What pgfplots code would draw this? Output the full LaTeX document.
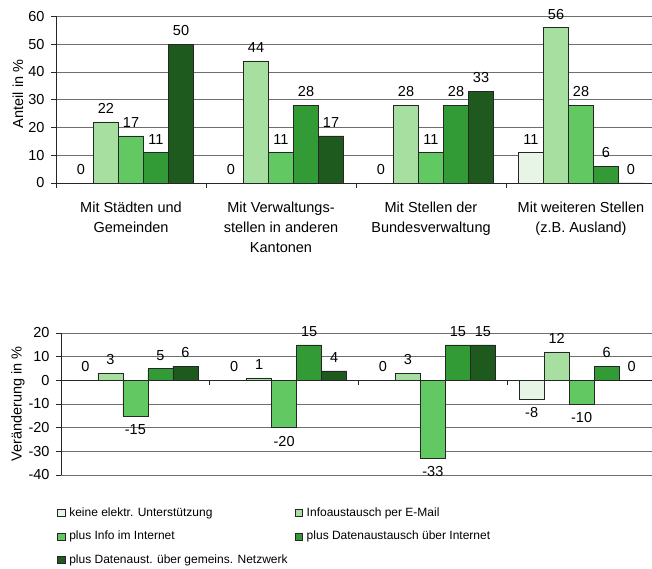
\documentclass[border=0pt]{standalone}
\usepackage{fontspec}
\setmainfont{Liberation Sans}
\usepackage{pgfplots}
\usepackage{pgfplotstable}
\pgfplotsset{compat=1.18}

\definecolor{cNone}{RGB}{230,245,230}
\definecolor{cMail}{RGB}{166,223,160}
\definecolor{cWeb}{RGB}{98,200,98}
\definecolor{cData}{RGB}{51,155,53}
\definecolor{cNet}{RGB}{30,90,30}
\definecolor{gridgray}{RGB}{110,110,110}

% Anteil in %
\pgfplotstableread{
x none mail web data net
0 0 22 17 11 50
1 0 44 11 28 17
2 0 28 11 28 33
3 11 56 28 6 0
}\share

% Veraenderung in %
\pgfplotstableread{
x none mail web data net
0 0 3 -15 5 6
1 0 1 -20 15 4
2 0 3 -33 15 15
3 -8 12 -10 6 0
}\change

\newcommand\axfont{\fontsize{14.5}{20}\selectfont}
\newcommand\lgfont{\fontsize{12}{14}\selectfont}

\pgfplotsset{
  groupbars/.style={
    scale only axis,
    ybar=0pt, bar width=25pt,
    xmin=-0.5, xmax=3.5,
    axis line style={-, black!85, line width=0.6pt},
    tick style={black!85, line width=0.6pt},
    tick align=outside, major tick length=5pt,
    ymajorgrids, grid style={gridgray, line width=0.6pt},
    /pgf/number format/assume math mode=true,
    tick label style={font=\axfont},
    yticklabel style={xshift=-3pt},
    label style={font=\axfont},
    nodes near coords,
    every node near coord/.append style={font=\axfont, text=black, inner ysep=8pt, inner xsep=1pt},
    xtick={-0.5,0.5,1.5,2.5,3.5},
    xticklabels={},
    every axis plot/.append style={draw=black!85, line width=0.6pt},
  },
}

\begin{document}
\begin{tikzpicture}
\useasboundingbox (0,0) rectangle (652pt,568pt);

\begin{axis}[groupbars,
  at={(56pt,385pt)}, anchor=south west,
  width=600pt, height=166.5pt,
  ymin=0, ymax=60, ytick={0,10,...,60},
  axis y line*=left, axis x line*=bottom,
  ylabel={Anteil in \%},
  ylabel style={at={(axis description cs:-0.0633,0.535)}, anchor=center},
  extra x ticks={0,1,2,3},
  extra x tick labels={{Mit Städten und\\Gemeinden},{Mit Verwaltungs-\\stellen in anderen\\Kantonen},{Mit Stellen der\\Bundesverwaltung},{Mit weiteren Stellen\\(z.B. Ausland)}},
  extra x tick style={major tick length=0pt, xticklabel style={align=center, yshift=-15pt}},
]
\addplot[fill=cNone] table[x=x, y=none] {\share};
\addplot[fill=cMail] table[x=x, y=mail] {\share};
\addplot[fill=cWeb]  table[x=x, y=web]  {\share};
\addplot[fill=cData] table[x=x, y=data] {\share};
\addplot[fill=cNet]  table[x=x, y=net]  {\share};
\end{axis}

\begin{axis}[groupbars,
  at={(61pt,93pt)}, anchor=south west,
  width=595pt, height=142pt,
  ymin=-40, ymax=20, ytick={-40,-30,...,20},
  axis y line*=left, axis x line*=middle,
  ylabel={Veränderung in \%},
  ylabel style={at={(axis description cs:-0.0723,0.5)}, anchor=center},
  legend columns=2,
  legend cell align=left,
  legend image code/.code={\draw[#1, line width=0.6pt] (0pt,-3.5pt) rectangle (7.5pt,3.5pt);},
  legend style={at={(axis description cs:-0.0067,-0.218)}, anchor=north west,
    draw=none, fill=none, inner sep=0pt, font=\lgfont, row sep=10pt,
    nodes={inner sep=1pt, text height=9pt, text depth=2.5pt},
    /tikz/every odd column/.append style={column sep=3pt},
    /tikz/every even column/.append style={column sep=6pt}},
]
\addplot[fill=cNone] table[x=x, y=none] {\change};
\addplot[fill=cMail] table[x=x, y=mail] {\change};
\addplot[fill=cWeb]  table[x=x, y=web]  {\change};
\addplot[fill=cData] table[x=x, y=data] {\change};
\addplot[fill=cNet]  table[x=x, y=net]  {\change};
\legend{keine elektr. Unterstützung, Infoaustausch per E-Mail, plus Info im Internet, plus Datenaustausch über Internet, plus Datenaust. über gemeins. Netzwerk}
\end{axis}
\end{tikzpicture}
\end{document}
